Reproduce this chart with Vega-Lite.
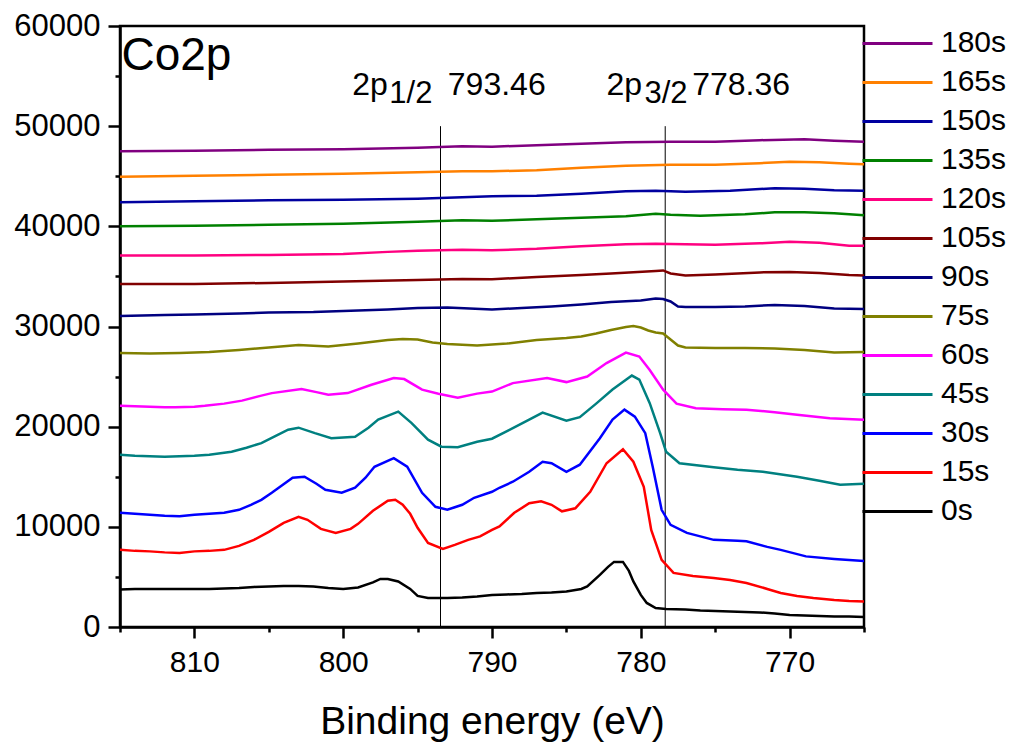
{
"$schema":"https://vega.github.io/schema/vega-lite/v6.json",
"width":744,"height":601,
"autosize":{"type":"none"},
"padding":{"left":120,"top":26,"right":150,"bottom":117},
"background":"white",
"config":{"font":"Liberation Sans","view":{"stroke":"black","strokeWidth":2.5}},
"datasets":{
"spec":[
{"s":"0s","e":815,"v":3750},{"s":"0s","e":814,"v":3800},{"s":"0s","e":813,"v":3800},{"s":"0s","e":812,"v":3800},{"s":"0s","e":811,"v":3800},{"s":"0s","e":810,"v":3800},{"s":"0s","e":809,"v":3800},{"s":"0s","e":808,"v":3850},{"s":"0s","e":807,"v":3900},{"s":"0s","e":806,"v":4000},{"s":"0s","e":805,"v":4050},{"s":"0s","e":804,"v":4100},{"s":"0s","e":803,"v":4100},{"s":"0s","e":802,"v":4050},{"s":"0s","e":801,"v":3900},{"s":"0s","e":800,"v":3800},{"s":"0s","e":799,"v":3950},{"s":"0s","e":798,"v":4450},{"s":"0s","e":797.5,"v":4800},{"s":"0s","e":797,"v":4800},{"s":"0s","e":796.3,"v":4550},{"s":"0s","e":795.5,"v":3800},{"s":"0s","e":795,"v":3100},{"s":"0s","e":794.3,"v":2900},{"s":"0s","e":793,"v":2900},{"s":"0s","e":792,"v":2950},{"s":"0s","e":791,"v":3050},{"s":"0s","e":790,"v":3200},{"s":"0s","e":789,"v":3250},{"s":"0s","e":788,"v":3300},{"s":"0s","e":787,"v":3400},{"s":"0s","e":786,"v":3450},{"s":"0s","e":785,"v":3550},{"s":"0s","e":784,"v":3800},{"s":"0s","e":783.6,"v":4050},{"s":"0s","e":782.75,"v":5200},{"s":"0s","e":782.2,"v":6000},{"s":"0s","e":781.8,"v":6500},{"s":"0s","e":781.2,"v":6500},{"s":"0s","e":780.8,"v":5600},{"s":"0s","e":780.5,"v":4550},{"s":"0s","e":780,"v":3200},{"s":"0s","e":779.6,"v":2400},{"s":"0s","e":779,"v":1900},{"s":"0s","e":778.3,"v":1800},{"s":"0s","e":777,"v":1750},{"s":"0s","e":776,"v":1650},{"s":"0s","e":775,"v":1600},{"s":"0s","e":774,"v":1550},{"s":"0s","e":773,"v":1500},{"s":"0s","e":772,"v":1450},{"s":"0s","e":771,"v":1350},{"s":"0s","e":770,"v":1200},{"s":"0s","e":769,"v":1150},{"s":"0s","e":768,"v":1100},{"s":"0s","e":767,"v":1050},{"s":"0s","e":766,"v":1050},{"s":"0s","e":765,"v":1000},
{"s":"15s","e":815,"v":7700},{"s":"15s","e":814,"v":7600},{"s":"15s","e":813,"v":7550},{"s":"15s","e":812,"v":7450},{"s":"15s","e":811,"v":7400},{"s":"15s","e":810,"v":7550},{"s":"15s","e":809,"v":7600},{"s":"15s","e":808,"v":7700},{"s":"15s","e":807,"v":8100},{"s":"15s","e":806,"v":8700},{"s":"15s","e":805,"v":9500},{"s":"15s","e":804,"v":10400},{"s":"15s","e":803,"v":11000},{"s":"15s","e":802.4,"v":10700},{"s":"15s","e":801.5,"v":9800},{"s":"15s","e":800.5,"v":9400},{"s":"15s","e":799.5,"v":9800},{"s":"15s","e":799,"v":10300},{"s":"15s","e":798,"v":11600},{"s":"15s","e":797,"v":12600},{"s":"15s","e":796.5,"v":12700},{"s":"15s","e":796,"v":12200},{"s":"15s","e":795.5,"v":11300},{"s":"15s","e":795,"v":9900},{"s":"15s","e":794.3,"v":8400},{"s":"15s","e":793.3,"v":7800},{"s":"15s","e":792.5,"v":8200},{"s":"15s","e":791.6,"v":8700},{"s":"15s","e":790.8,"v":9050},{"s":"15s","e":790,"v":9700},{"s":"15s","e":789.5,"v":10050},{"s":"15s","e":788.5,"v":11400},{"s":"15s","e":787.5,"v":12350},{"s":"15s","e":786.7,"v":12550},{"s":"15s","e":786,"v":12200},{"s":"15s","e":785.3,"v":11550},{"s":"15s","e":784.4,"v":11850},{"s":"15s","e":783.4,"v":13500},{"s":"15s","e":782.3,"v":16350},{"s":"15s","e":781.2,"v":17750},{"s":"15s","e":780.5,"v":16500},{"s":"15s","e":779.8,"v":14000},{"s":"15s","e":779.3,"v":9700},{"s":"15s","e":778.6,"v":6700},{"s":"15s","e":777.8,"v":5400},{"s":"15s","e":776.5,"v":5100},{"s":"15s","e":775.1,"v":4900},{"s":"15s","e":774,"v":4700},{"s":"15s","e":772.9,"v":4400},{"s":"15s","e":771.5,"v":3800},{"s":"15s","e":770.6,"v":3400},{"s":"15s","e":769.5,"v":3100},{"s":"15s","e":768.4,"v":2900},{"s":"15s","e":767,"v":2700},{"s":"15s","e":766,"v":2600},{"s":"15s","e":765,"v":2550},
{"s":"30s","e":815,"v":11400},{"s":"30s","e":814,"v":11300},{"s":"30s","e":813,"v":11200},{"s":"30s","e":812,"v":11100},{"s":"30s","e":811,"v":11050},{"s":"30s","e":810,"v":11200},{"s":"30s","e":809,"v":11300},{"s":"30s","e":808,"v":11400},{"s":"30s","e":807,"v":11700},{"s":"30s","e":806.2,"v":12200},{"s":"30s","e":805.5,"v":12700},{"s":"30s","e":804.8,"v":13400},{"s":"30s","e":803.4,"v":14900},{"s":"30s","e":802.6,"v":15000},{"s":"30s","e":801.8,"v":14300},{"s":"30s","e":801.2,"v":13700},{"s":"30s","e":800.1,"v":13400},{"s":"30s","e":799.2,"v":13900},{"s":"30s","e":798.5,"v":14900},{"s":"30s","e":797.9,"v":16000},{"s":"30s","e":796.6,"v":16850},{"s":"30s","e":795.7,"v":16000},{"s":"30s","e":794.7,"v":13400},{"s":"30s","e":793.8,"v":12000},{"s":"30s","e":793,"v":11700},{"s":"30s","e":792,"v":12200},{"s":"30s","e":791.2,"v":12900},{"s":"30s","e":790,"v":13500},{"s":"30s","e":789.5,"v":13900},{"s":"30s","e":788.6,"v":14500},{"s":"30s","e":787.5,"v":15500},{"s":"30s","e":786.6,"v":16500},{"s":"30s","e":786,"v":16350},{"s":"30s","e":785,"v":15500},{"s":"30s","e":784.1,"v":16200},{"s":"30s","e":782.75,"v":18850},{"s":"30s","e":781.9,"v":20700},{"s":"30s","e":781.1,"v":21700},{"s":"30s","e":780.4,"v":21000},{"s":"30s","e":779.7,"v":19350},{"s":"30s","e":779.2,"v":16000},{"s":"30s","e":778.6,"v":11700},{"s":"30s","e":778,"v":10200},{"s":"30s","e":776.9,"v":9400},{"s":"30s","e":775.1,"v":8700},{"s":"30s","e":773.5,"v":8600},{"s":"30s","e":772.9,"v":8550},{"s":"30s","e":771.5,"v":8000},{"s":"30s","e":770.6,"v":7700},{"s":"30s","e":768.9,"v":7050},{"s":"30s","e":767,"v":6800},{"s":"30s","e":765,"v":6600},
{"s":"45s","e":815,"v":17200},{"s":"45s","e":814,"v":17100},{"s":"45s","e":813,"v":17050},{"s":"45s","e":812,"v":17000},{"s":"45s","e":811,"v":17050},{"s":"45s","e":810,"v":17100},{"s":"45s","e":809,"v":17200},{"s":"45s","e":808,"v":17400},{"s":"45s","e":807.5,"v":17500},{"s":"45s","e":806.5,"v":17900},{"s":"45s","e":805.5,"v":18350},{"s":"45s","e":804.5,"v":19100},{"s":"45s","e":803.7,"v":19700},{"s":"45s","e":803,"v":19900},{"s":"45s","e":801.9,"v":19350},{"s":"45s","e":800.8,"v":18850},{"s":"45s","e":799.2,"v":19000},{"s":"45s","e":798.3,"v":19900},{"s":"45s","e":797.65,"v":20700},{"s":"45s","e":796.3,"v":21500},{"s":"45s","e":795.4,"v":20350},{"s":"45s","e":794.3,"v":18700},{"s":"45s","e":793.4,"v":18000},{"s":"45s","e":792.3,"v":17950},{"s":"45s","e":791,"v":18500},{"s":"45s","e":790,"v":18800},{"s":"45s","e":788.6,"v":19850},{"s":"45s","e":787.5,"v":20700},{"s":"45s","e":786.6,"v":21400},{"s":"45s","e":785,"v":20600},{"s":"45s","e":784.1,"v":20950},{"s":"45s","e":783,"v":22300},{"s":"45s","e":781.9,"v":23700},{"s":"45s","e":780.6,"v":25100},{"s":"45s","e":780.1,"v":24700},{"s":"45s","e":779.4,"v":22350},{"s":"45s","e":778.7,"v":19350},{"s":"45s","e":778.3,"v":17500},{"s":"45s","e":777.4,"v":16350},{"s":"45s","e":775.1,"v":15950},{"s":"45s","e":773.5,"v":15700},{"s":"45s","e":771.8,"v":15500},{"s":"45s","e":769.5,"v":15000},{"s":"45s","e":768,"v":14600},{"s":"45s","e":766.6,"v":14200},{"s":"45s","e":765,"v":14300},
{"s":"60s","e":815,"v":22100},{"s":"60s","e":814,"v":22050},{"s":"60s","e":813,"v":22000},{"s":"60s","e":812,"v":21950},{"s":"60s","e":811.3,"v":21950},{"s":"60s","e":810,"v":22000},{"s":"60s","e":809.3,"v":22080},{"s":"60s","e":808,"v":22300},{"s":"60s","e":806.8,"v":22600},{"s":"60s","e":805.5,"v":23100},{"s":"60s","e":804.8,"v":23350},{"s":"60s","e":802.8,"v":23750},{"s":"60s","e":801.8,"v":23450},{"s":"60s","e":801,"v":23180},{"s":"60s","e":799.7,"v":23350},{"s":"60s","e":798.1,"v":24180},{"s":"60s","e":796.6,"v":24850},{"s":"60s","e":795.9,"v":24750},{"s":"60s","e":794.7,"v":23700},{"s":"60s","e":793.6,"v":23280},{"s":"60s","e":792.3,"v":22900},{"s":"60s","e":791,"v":23300},{"s":"60s","e":790,"v":23500},{"s":"60s","e":788.6,"v":24350},{"s":"60s","e":786.3,"v":24850},{"s":"60s","e":785,"v":24450},{"s":"60s","e":783.6,"v":25000},{"s":"60s","e":782.3,"v":26350},{"s":"60s","e":781,"v":27400},{"s":"60s","e":780.1,"v":27000},{"s":"60s","e":779.4,"v":25650},{"s":"60s","e":778.5,"v":23700},{"s":"60s","e":777.6,"v":22300},{"s":"60s","e":776.3,"v":21850},{"s":"60s","e":774.5,"v":21750},{"s":"60s","e":772.9,"v":21680},{"s":"60s","e":771,"v":21450},{"s":"60s","e":769.5,"v":21180},{"s":"60s","e":767.3,"v":20850},{"s":"60s","e":765,"v":20700},
{"s":"75s","e":815,"v":27350},{"s":"75s","e":813,"v":27300},{"s":"75s","e":811,"v":27350},{"s":"75s","e":809,"v":27450},{"s":"75s","e":807,"v":27650},{"s":"75s","e":805,"v":27900},{"s":"75s","e":803,"v":28150},{"s":"75s","e":801,"v":28000},{"s":"75s","e":799,"v":28300},{"s":"75s","e":797,"v":28650},{"s":"75s","e":796,"v":28750},{"s":"75s","e":795,"v":28700},{"s":"75s","e":794,"v":28400},{"s":"75s","e":793,"v":28250},{"s":"75s","e":791,"v":28100},{"s":"75s","e":789,"v":28300},{"s":"75s","e":787,"v":28650},{"s":"75s","e":785,"v":28850},{"s":"75s","e":784,"v":29000},{"s":"75s","e":783,"v":29300},{"s":"75s","e":782,"v":29650},{"s":"75s","e":781,"v":29950},{"s":"75s","e":780.5,"v":30050},{"s":"75s","e":780,"v":29900},{"s":"75s","e":779.5,"v":29600},{"s":"75s","e":779,"v":29400},{"s":"75s","e":778.5,"v":29300},{"s":"75s","e":778,"v":28700},{"s":"75s","e":777.5,"v":28100},{"s":"75s","e":777,"v":27900},{"s":"75s","e":775,"v":27850},{"s":"75s","e":773,"v":27850},{"s":"75s","e":771,"v":27800},{"s":"75s","e":769,"v":27650},{"s":"75s","e":767,"v":27400},{"s":"75s","e":765,"v":27450},
{"s":"90s","e":815,"v":31050},{"s":"90s","e":812,"v":31150},{"s":"90s","e":810,"v":31200},{"s":"90s","e":807,"v":31300},{"s":"90s","e":805,"v":31400},{"s":"90s","e":802,"v":31450},{"s":"90s","e":800,"v":31550},{"s":"90s","e":797,"v":31700},{"s":"90s","e":795,"v":31850},{"s":"90s","e":793,"v":31900},{"s":"90s","e":790,"v":31700},{"s":"90s","e":788,"v":31850},{"s":"90s","e":786,"v":32000},{"s":"90s","e":784,"v":32200},{"s":"90s","e":782,"v":32450},{"s":"90s","e":780,"v":32600},{"s":"90s","e":779,"v":32800},{"s":"90s","e":778.5,"v":32750},{"s":"90s","e":778,"v":32500},{"s":"90s","e":777.5,"v":32000},{"s":"90s","e":777,"v":31950},{"s":"90s","e":775,"v":31950},{"s":"90s","e":773,"v":32000},{"s":"90s","e":771,"v":32150},{"s":"90s","e":769,"v":32050},{"s":"90s","e":767,"v":31800},{"s":"90s","e":765,"v":31750},
{"s":"105s","e":815,"v":34250},{"s":"105s","e":810,"v":34250},{"s":"105s","e":805,"v":34350},{"s":"105s","e":800,"v":34500},{"s":"105s","e":795,"v":34650},{"s":"105s","e":792,"v":34750},{"s":"105s","e":790,"v":34720},{"s":"105s","e":787,"v":34950},{"s":"105s","e":784,"v":35150},{"s":"105s","e":782,"v":35300},{"s":"105s","e":779,"v":35550},{"s":"105s","e":778.5,"v":35600},{"s":"105s","e":778,"v":35300},{"s":"105s","e":777,"v":35100},{"s":"105s","e":775,"v":35200},{"s":"105s","e":772,"v":35400},{"s":"105s","e":770,"v":35450},{"s":"105s","e":768,"v":35350},{"s":"105s","e":766,"v":35150},{"s":"105s","e":765,"v":35100},
{"s":"120s","e":815,"v":37100},{"s":"120s","e":810,"v":37100},{"s":"120s","e":805,"v":37150},{"s":"120s","e":800,"v":37250},{"s":"120s","e":797,"v":37450},{"s":"120s","e":795,"v":37550},{"s":"120s","e":792,"v":37650},{"s":"120s","e":790,"v":37600},{"s":"120s","e":787,"v":37750},{"s":"120s","e":784,"v":38000},{"s":"120s","e":781,"v":38200},{"s":"120s","e":779,"v":38250},{"s":"120s","e":777,"v":38200},{"s":"120s","e":775,"v":38150},{"s":"120s","e":772,"v":38300},{"s":"120s","e":770,"v":38450},{"s":"120s","e":768,"v":38350},{"s":"120s","e":766,"v":38050},{"s":"120s","e":765,"v":38050},
{"s":"135s","e":815,"v":40000},{"s":"135s","e":810,"v":40050},{"s":"135s","e":805,"v":40150},{"s":"135s","e":800,"v":40250},{"s":"135s","e":795,"v":40450},{"s":"135s","e":792,"v":40600},{"s":"135s","e":790,"v":40550},{"s":"135s","e":787,"v":40700},{"s":"135s","e":784,"v":40850},{"s":"135s","e":781,"v":41000},{"s":"135s","e":779,"v":41250},{"s":"135s","e":778,"v":41150},{"s":"135s","e":776,"v":41050},{"s":"135s","e":773,"v":41200},{"s":"135s","e":771,"v":41400},{"s":"135s","e":769,"v":41400},{"s":"135s","e":767,"v":41300},{"s":"135s","e":765,"v":41100},
{"s":"150s","e":815,"v":42400},{"s":"150s","e":810,"v":42500},{"s":"150s","e":805,"v":42600},{"s":"150s","e":800,"v":42650},{"s":"150s","e":795,"v":42750},{"s":"150s","e":792,"v":42900},{"s":"150s","e":790,"v":43000},{"s":"150s","e":787,"v":43050},{"s":"150s","e":784,"v":43250},{"s":"150s","e":781,"v":43500},{"s":"150s","e":779,"v":43550},{"s":"150s","e":777,"v":43450},{"s":"150s","e":774,"v":43550},{"s":"150s","e":771,"v":43800},{"s":"150s","e":769,"v":43750},{"s":"150s","e":767,"v":43600},{"s":"150s","e":765,"v":43550},
{"s":"165s","e":815,"v":44950},{"s":"165s","e":810,"v":45050},{"s":"165s","e":805,"v":45150},{"s":"165s","e":800,"v":45250},{"s":"165s","e":795,"v":45400},{"s":"165s","e":792,"v":45500},{"s":"165s","e":790,"v":45500},{"s":"165s","e":787,"v":45600},{"s":"165s","e":784,"v":45850},{"s":"165s","e":781,"v":46050},{"s":"165s","e":778,"v":46150},{"s":"165s","e":775,"v":46150},{"s":"165s","e":772,"v":46300},{"s":"165s","e":770,"v":46450},{"s":"165s","e":768,"v":46400},{"s":"165s","e":766,"v":46250},{"s":"165s","e":765,"v":46200},
{"s":"180s","e":815,"v":47500},{"s":"180s","e":810,"v":47550},{"s":"180s","e":805,"v":47650},{"s":"180s","e":800,"v":47700},{"s":"180s","e":795,"v":47850},{"s":"180s","e":792,"v":48000},{"s":"180s","e":790,"v":47950},{"s":"180s","e":787,"v":48100},{"s":"180s","e":784,"v":48250},{"s":"180s","e":781,"v":48400},{"s":"180s","e":778,"v":48450},{"s":"180s","e":775,"v":48450},{"s":"180s","e":772,"v":48600},{"s":"180s","e":769,"v":48700},{"s":"180s","e":767,"v":48550},{"s":"180s","e":765,"v":48450}
],
"peaks":[{"e":793.46,"lo":0,"hi":50000},{"e":778.36,"lo":0,"hi":50000}],
"big":[{"e":799.4,"v":53100,"t":"2p"},{"e":792.97,"v":53100,"t":"793.46"},{"e":782.3,"v":53100,"t":"2p"},{"e":776.55,"v":53100,"t":"778.36"}],
"sub":[{"e":796.9,"v":52350,"t":"1/2"},{"e":779.75,"v":52350,"t":"3/2"}],
"label":[{"e":814.9,"v":55600,"t":"Co2p"}]
},
"encoding":{
"x":{"field":"e","type":"quantitative","scale":{"domain":[765,815],"reverse":true,"nice":false,"zero":false},
 "axis":{"title":"Binding energy (eV)","titleFontSize":39,"titleFontWeight":"normal","titleColor":"black","titlePadding":25,
 "values":[765,770,775,780,785,790,795,800,805,810,815],"format":"d",
 "labelExpr":"datum.value % 10 === 0 ? datum.label : ''",
 "tickSize":{"condition":{"test":"datum.value % 10 === 0","value":11},"value":5},
 "tickWidth":2.5,"tickColor":"black","domainColor":"black","domainWidth":2.5,"grid":false,
 "labelFontSize":30,"labelColor":"black","labelPadding":9,"labelFlush":false,"labelOverlap":false}},
"y":{"field":"v","type":"quantitative","scale":{"domain":[0,60000],"nice":false},
 "axis":{"title":null,"values":[0,5000,10000,15000,20000,25000,30000,35000,40000,45000,50000,55000,60000],"format":"d",
 "labelExpr":"datum.value % 10000 === 0 ? datum.label : ''",
 "tickSize":{"condition":{"test":"datum.value % 10000 === 0","value":12},"value":5},
 "tickWidth":2.5,"tickColor":"black","domainColor":"black","domainWidth":2.5,"grid":false,
 "labelFontSize":31,"labelColor":"black","labelPadding":8,"labelFlush":false,"labelOverlap":false}}
},
"layer":[
{"data":{"name":"peaks"},"mark":{"type":"rule","color":"black","strokeWidth":1},
 "encoding":{"y":{"field":"lo","type":"quantitative"},"y2":{"field":"hi"}}},
{"data":{"name":"spec"},"mark":{"type":"line","strokeWidth":2.5},
 "encoding":{"color":{"field":"s","type":"nominal",
  "scale":{"domain":["180s","165s","150s","135s","120s","105s","90s","75s","60s","45s","30s","15s","0s"],
   "range":["#800080","#FF8000","#0000A0","#008000","#FF0080","#800000","#000080","#808000","#FF00FF","#008080","#0000FF","#FF0000","#000000"]},
  "legend":{"title":null,"orient":"none","legendX":741,"legendY":-2,"direction":"vertical","columns":1,"padding":0,
   "symbolType":"stroke","symbolSize":4900,"symbolStrokeWidth":3,"clipHeight":38.8,"rowPadding":0,
   "labelFontSize":30,"labelColor":"black","labelOffset":7,"labelLimit":200}}}},
{"data":{"name":"big"},"mark":{"type":"text","fontSize":32,"align":"left","baseline":"alphabetic","color":"black"},
 "encoding":{"text":{"field":"t"}}},
{"data":{"name":"sub"},"mark":{"type":"text","fontSize":31,"align":"left","baseline":"alphabetic","color":"black"},
 "encoding":{"text":{"field":"t"}}},
{"data":{"name":"label"},"mark":{"type":"text","fontSize":46,"align":"left","baseline":"alphabetic","color":"black"},
 "encoding":{"text":{"field":"t"}}}
]
}
